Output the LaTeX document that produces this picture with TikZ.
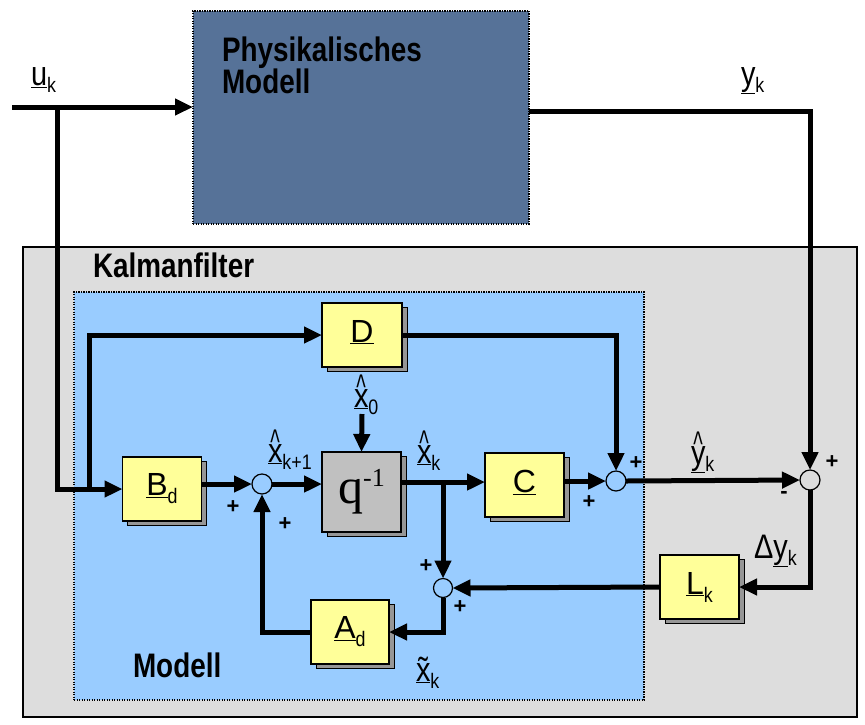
\documentclass[tikz,border=0pt]{standalone}
\usepackage{fontspec}
\usepackage{graphicx}
\setmainfont{Liberation Sans}
\newfontfamily\seriffont{Liberation Serif}
\newfontfamily\nb[FakeStretch=0.82]{Liberation Sans}
\newfontfamily\tn[FakeStretch=0.85]{Liberation Sans}
\usetikzlibrary{arrows.meta,shadows,calc}
\definecolor{physblue}{RGB}{86,114,152}
\definecolor{kgray}{RGB}{221,221,221}
\definecolor{mblue}{RGB}{153,204,255}
\definecolor{byellow}{RGB}{255,255,153}
\definecolor{qgray}{RGB}{192,192,192}
\definecolor{shgray}{RGB}{150,150,150}
\newcommand\hatx[1]{\leavevmode\setbox0\hbox{#1}\hbox to\wd0{\hss\raisebox{7.5pt}{\scalebox{0.7}[1.05]{\textasciicircum}}\hss}\kern-\wd0\box0}
\newcommand\sig[2]{{\tn\fontsize{34}{34}\selectfont\underline{#1}}\raisebox{-7pt}{\tn\fontsize{21}{21}\selectfont #2}}
\newcommand\blab[2]{{\fontsize{32}{32}\selectfont\underline{#1}}\raisebox{-8pt}{\tn\fontsize{21}{21}\selectfont #2}}
\begin{document}
\begin{tikzpicture}[x=1pt,y=-1pt,
  every node/.style={inner sep=0pt, outer sep=0pt},
  arr/.style={line width=5pt,-{Triangle[length=18pt,width=16pt]}},
  blk/.style={draw=black, line width=1.2pt, fill=byellow, minimum width=79pt, minimum height=64pt,
    drop shadow={shadow xshift=5pt, shadow yshift=-4pt, fill=shgray, opacity=1, draw=black, line width=0.6pt}},
  sumc/.style={circle, draw=black, line width=1.2pt, minimum size=20pt},
  pm/.style={font=\bfseries\fontsize{22}{22}\selectfont},
  lab/.style={anchor=base west},
  title/.style={anchor=base west, font=\nb\bfseries\fontsize{34}{34}\selectfont},
  dotborder/.style={draw=black, line width=2pt, dash pattern=on 1.4pt off 1.1pt}
]
\useasboundingbox (0,0) rectangle (865,724);
\fill[white] (0,0) rectangle (865,724);

% containers
\node[draw=black, line width=1.2pt, fill=kgray, minimum width=834pt, minimum height=470pt] (K) at (440,482) {};
\node[dotborder, fill=mblue, minimum width=570pt, minimum height=408pt] (M) at (359,496) {};
\node[dotborder, fill=physblue, minimum width=336pt, minimum height=213pt] (P) at (361,117) {};

\node[title] (ptxt1) at (222,61) {Physikalisches};
\node[title] (ptxt2) at (222,93) {Modell};
\node[title] (ktxt) at (93,277) {Kalmanfilter};
\node[title] (mtxt) at (133,677) {Modell};

% blocks
\node[blk] (Bd) at (162,489) {\blab{B}{d}};
\node[blk, minimum width=80pt] (D) at (362,335) {\blab{D}{}};
\node[blk, fill=qgray, minimum height=80pt] (Q) at (361.5,492) {\seriffont\fontsize{50}{50}\selectfont q\raisebox{17pt}{\fontsize{26}{26}\selectfont -1}};
\node[blk] (C) at (524.5,485) {\blab{C}{}};
\node[blk] (L) at (699.5,587) {\blab{L}{k}};
\node[blk, minimum width=78pt] (A) at (350,632) {\blab{A}{d}};

% summation points
\node[sumc, fill=mblue] (s1) at (262,484) {};
\node[sumc, fill=mblue, minimum size=19pt] (s2) at (443,588) {};
\node[sumc, fill=mblue] (s3) at (616,481) {};
\node[sumc, fill=kgray] (s4) at (810,480) {};

% coordinates
\coordinate (uin) at (12,107);
\coordinate (uj) at (57,107);
\coordinate (ub) at (89,489);
\coordinate (yc) at (810,111);
\coordinate (br) at (443,482);
\coordinate (x0s) at (362,414);

% connectors
\draw[arr] (uin) -- (uin -| P.west);
\draw[arr] (uj) |- (Bd.west);
\draw[arr] (ub) |- (D.west);
\draw[arr] (D.east) -| (s3.north);
\draw[arr] (yc -| P.east) -- (yc) -- (s4.north);
\draw[arr] (Bd.east |- s1) -- (s1.west);
\draw[arr] (s1.east) -- (s1 -| Q.west);
\draw[arr] (x0s) -- (Q.north);
\draw[arr] (Q.east |- br) -- (br -| C.west);
\draw[arr] (br) -- (s2.north);
\draw[arr] (C.east |- s3) -- (s3.west);
\draw[arr] (s3.east) -- (s4.west);
\draw[arr] (s4.south) |- (L.east);
\draw[arr] (L.west) -- (s2.east);
\draw[arr] (s2.south) |- (A.east);
\draw[arr] (A.west) -| (s1.south);

% signal labels
\node[lab] (lu) at (31,85) {\sig{u}{k}};
\node[lab] (ly) at (741,85) {\sig{y}{k}};
\node[lab] (lx0) at (354,407) {\sig{\hatx{x}}{0}};
\node[lab] (lxk1) at (268,462) {\sig{\hatx{x}}{k+1}};
\node[lab] (lxk) at (417,463) {\sig{\hatx{x}}{k}};
\node[lab] (lyh) at (691,464) {\sig{\hatx{y}}{k}};
\node[lab] (ldy) at (754,558) {{\tn\fontsize{34}{34}\selectfont Δ}\sig{y}{k}};
\node[lab] (lxt) at (416,681) {\sig{\~{x}}{k}};

% signs
\node[pm] (p1a) at (233,507) {+};
\node[pm] (p1b) at (285,524) {+};
\node[pm] (p2a) at (426,566) {+};
\node[pm] (p2b) at (460,607) {+};
\node[pm] (p3a) at (636,463) {+};
\node[pm] (p3b) at (589,502) {+};
\node[pm] (p4a) at (832,462) {+};
\node[pm] (p4b) at (784,495) {-};
\end{tikzpicture}
\end{document}
